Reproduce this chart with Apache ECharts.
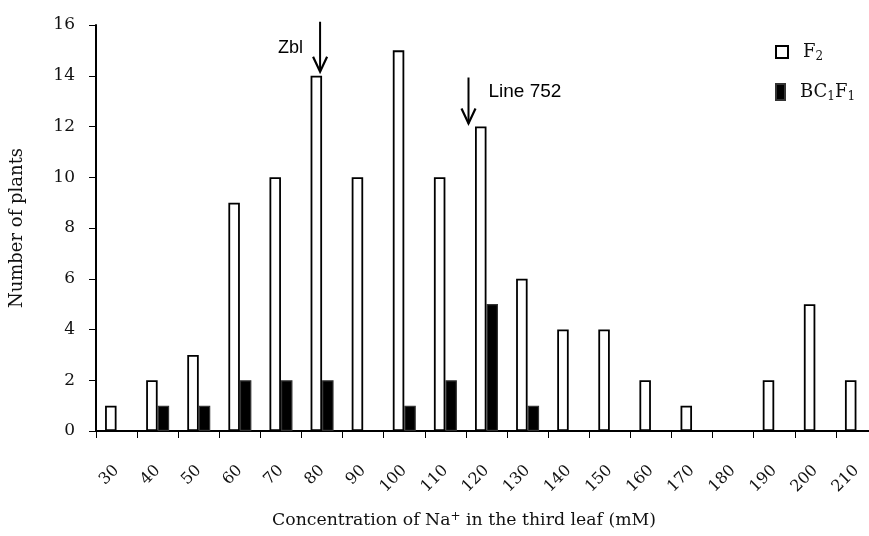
<!DOCTYPE html>
<html>
<head>
<meta charset="utf-8">
<script src="https://cdn.jsdelivr.net/npm/echarts@6/dist/echarts.min.js"></script>
<style>
  html, body { margin: 0; padding: 0; background: #fff; }
  #chart { width: 869px; height: 536px; }
</style>
</head>
<body>
<div id="chart"></div>
<script>
// Na+ concentration classes (mM)
const categories = ['30', '40', '50', '60', '70', '80', '90', '100', '110', '120',
  '130', '140', '150', '160', '170', '180', '190', '200', '210']
// number of plants per class; '-' = no bar
const f2Values = [1, 2, 3, 9, 10, 14, 10, 15, 10, 12, 6, 4, 4, 2, 1, '-', 2, 5, 2]
const bc1f1Values = ['-', 1, 1, 2, 2, 2, '-', 1, 2, 5, 1, '-', '-', '-', '-', '-', '-', '-', '-']
const yTicks = { min: 0, max: 16, interval: 2 }

const serif = '"DejaVu Serif", "Liberation Serif", serif'
const sans = '"Liberation Sans", Arial, sans-serif'

const chart = echarts.init(document.getElementById('chart'))

const option = {
  animation: false,
  backgroundColor: '#fff',
  // the plot runs a little past the right edge of the picture
  grid: { left: 96, top: 25, width: 781, height: 406, outerBoundsMode: 'none' },
  legend: [
    {
      data: ['F2'],
      left: 775,
      top: 43,
      padding: 0,
      icon: 'rect',
      itemWidth: 12,
      itemHeight: 12,
      selectedMode: false,
      formatter: () => '{t|F}{s|2}',
      textStyle: {
        rich: {
          t: { fontFamily: serif, fontSize: 18, color: '#111', padding: [0, 0, 0, 10] },
          s: { fontFamily: serif, fontSize: 12, color: '#111', padding: [9, 0, 0, 0] },
        },
      },
    },
    {
      data: ['BC1F1'],
      left: 775,
      top: 83,
      padding: 0,
      icon: 'rect',
      itemWidth: 9,
      itemHeight: 16,
      selectedMode: false,
      formatter: () => '{t|BC}{s|1}{t2|F}{s|1}',
      textStyle: {
        rich: {
          t: { fontFamily: serif, fontSize: 18, color: '#111', padding: [0, 0, 0, 10] },
          t2: { fontFamily: serif, fontSize: 18, color: '#111' },
          s: { fontFamily: serif, fontSize: 12, color: '#111', padding: [9, 0, 0, 0] },
        },
      },
    },
  ],
  xAxis: {
    type: 'category',
    data: categories,
    boundaryGap: true,
    name: '{n|Concentration of Na}{p|+}{n| in the third leaf (mM)}',
    nameLocation: 'middle',
    nameGap: 80,
    nameTextStyle: {
      padding: [0, 45, 0, 0],
      rich: {
        n: { fontFamily: serif, fontSize: 17.3, color: '#111' },
        p: { fontFamily: serif, fontSize: 12, color: '#111', padding: [0, 0, 8, 0] },
      },
    },
    axisLine: { lineStyle: { color: '#000', width: 2 } },
    axisTick: { show: true, length: 7, interval: 0, lineStyle: { color: '#000', width: 1 } },
    axisLabel: {
      interval: 0,
      rotate: 45,
      margin: 37,
      fontFamily: serif,
      fontSize: 16,
      color: '#111',
    },
    splitLine: { show: false },
  },
  yAxis: {
    type: 'value',
    min: yTicks.min,
    max: yTicks.max,
    interval: yTicks.interval,
    name: 'Number of plants',
    nameLocation: 'middle',
    nameGap: 70,
    nameTextStyle: { fontFamily: serif, fontSize: 18, color: '#111' },
    axisLine: { show: true, lineStyle: { color: '#000', width: 2 } },
    axisTick: { show: true, length: 7, lineStyle: { color: '#000', width: 1 } },
    axisLabel: { margin: 21, fontFamily: serif, fontSize: 17, color: '#111' },
    splitLine: { show: false },
  },
  series: [
    {
      name: 'F2',
      type: 'bar',
      data: f2Values,
      barWidth: 11.5,
      barGap: '0%',
      itemStyle: { color: '#fff', borderColor: '#000', borderWidth: 1.8 },
    },
    {
      name: 'BC1F1',
      type: 'bar',
      data: bc1f1Values,
      barWidth: 11.5,
      itemStyle: { color: '#000', borderColor: '#333', borderWidth: 1.2 },
    },
  ],
}

chart.setOption(option)

// arrows pointing at the two parental lines, placed from the data scale
const arrow = (x, yTop, yTip) => [
  { type: 'line', shape: { x1: x, y1: yTop, x2: x, y2: yTip }, style: { stroke: '#000', lineWidth: 2 } },
  {
    type: 'polyline',
    shape: { points: [[x - 7, yTip - 15], [x, yTip], [x + 7, yTip - 15]] },
    style: { stroke: '#000', lineWidth: 2.2, fill: null },
  },
]

const zbl = chart.convertToPixel({ gridIndex: 0 }, ['80', 14])
const l752 = chart.convertToPixel({ gridIndex: 0 }, ['120', 12])
const zx = zbl[0] - 2
const zTip = zbl[1] - 4
const lx = l752[0] - 18
const lTip = l752[1] - 3

chart.setOption({
  graphic: [
    ...arrow(zx, zTip - 50, zTip),
    {
      type: 'text',
      x: zx - 17,
      y: zTip - 24,
      style: { text: 'Zbl', font: '18px ' + sans, fill: '#000', align: 'right', verticalAlign: 'middle' },
    },
    ...arrow(lx, lTip - 46, lTip),
    {
      type: 'text',
      x: lx + 20,
      y: lTip - 32,
      style: { text: 'Line 752', font: '19px ' + sans, fill: '#000', align: 'left', verticalAlign: 'middle' },
    },
  ],
})

window.addEventListener('resize', () => chart.resize())
</script>
</body>
</html>
